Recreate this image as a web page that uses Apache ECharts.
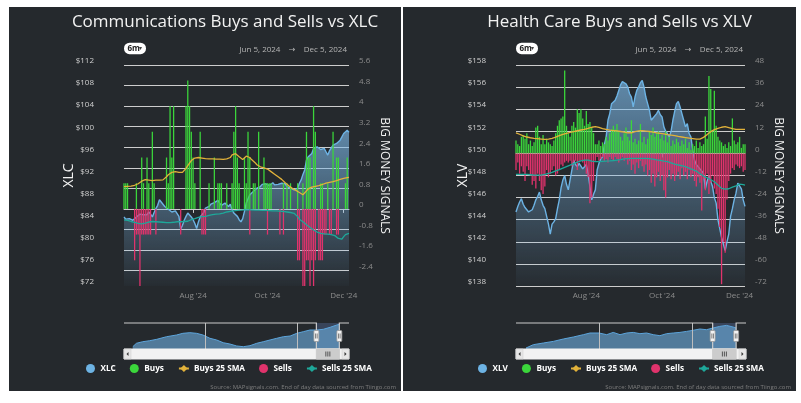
<!DOCTYPE html>
<html><head><meta charset="utf-8">
<script src="https://cdn.jsdelivr.net/npm/echarts@6/dist/echarts.min.js"></script>
<style>
html,body{margin:0;padding:0;background:#ffffff;width:801px;height:403px;overflow:hidden}
.panel{position:absolute;background:#25292d}
#c1{left:9px;top:7px;width:392px;height:384px}
#c2{left:403px;top:7px;width:393px;height:384px}
</style></head><body>
<div id="c1" class="panel"></div><div id="c2" class="panel"></div>
<script>
const FONT = "'Open Sans', 'DejaVu Sans', sans-serif";

// ---------- categories ----------
const holidays = ['2024-06-19','2024-07-04','2024-09-02','2024-11-28'];
function buildTradingDays(startIso, endIso){
  const out=[]; const d=new Date(startIso+'T00:00:00Z'); const end=new Date(endIso+'T00:00:00Z');
  while(d<=end){ const dow=d.getUTCDay(); const iso=d.toISOString().slice(0,10);
    if(dow!==0&&dow!==6&&holidays.indexOf(iso)<0) out.push(iso); d.setUTCDate(d.getUTCDate()+1);} return out;
}
const tradingDates = buildTradingDays('2024-06-05','2024-12-05');
const tickDates = ['2024-08-01','2024-10-01','2024-12-02'];
const tickLabels = ["Aug '24","Oct '24","Dec '24"];
const selStart = '2024-06-05', selEnd = '2024-12-05';
const navMin = '2020-03-25', navMax = '2025-02-20';
const navYearLines = ['2022-01-01','2024-01-01'];

// ---------- XLC (Communications) ----------
const xlcPrice = [84.5,84.1,83.9,84.2,84.3,83.9,84.1,84.5,84.8,85.0,85.3,84.9,84.6,84.9,85.4,85.0,84.5,85.3,86.0,86.6,
87.6,87.2,87.4,86.4,86.1,85.9,85.8,85.4,85.2,85.6,85.3,84.6,82.3,83.0,83.9,84.6,85.2,84.9,84.5,84.0,
83.3,82.4,83.6,84.5,84.9,85.3,86.1,86.0,86.4,86.8,87.0,87.1,87.3,87.5,87.0,86.6,86.4,87.0,87.3,86.4,
86.8,85.8,85.2,84.9,84.6,84.0,83.6,84.2,85.5,87.0,87.8,88.5,88.8,89.1,89.4,89.7,89.9,90.0,90.4,90.3,
90.5,90.6,90.2,90.4,90.7,90.3,90.0,90.4,90.7,90.6,90.9,90.5,90.0,89.8,89.7,89.5,89.4,89.6,89.7,90.6,
91.2,92.2,93.0,94.8,95.4,95.1,96.0,96.9,97.0,97.2,97.0,96.7,96.8,96.9,96.3,95.7,96.5,97.0,97.5,97.6,
97.8,98.0,98.4,99.0,99.6,99.9,100.2,99.8];
const xlcBuys = [1,1,1,0,0,0,0,1,0,0, 2,1,0,2,1,0,3,1,0,0, 0,0,0,0,2,1,4,2,4,0, 0,0,0,0,0,4,5,4,3,2,
1,0,0,3,0,0,0,0,1,0, 0,2,0,1,1,1,0,0,1,0, 0,1,3,4,2,1,0,0,2,1, 3,2,0,1,1,0,3,0,0,2,
1,1,1,1,0,0,0,0,0,0, 1,0,1,0,1,0,0,0,1,0, 0,1,0,3,2,2,0,4,3,0, 0,1,1,0,0,1,0,0,3,0,
2,2,0,0,0,1,2,0];
const xlcSells = [0,0,0,0,0,0,-2,-1,-1,-3, -1,-1,-1,-1,-1,-1,0,0,-1,0, 0,0,0,0,0,0,0,0,0,0, 0,0,-1,0,0,0,0,0,0,0,
0,0,0,0,-1,-1,-1,0,0,0, 0,0,0,0,0,0,0,0,0,0, 0,0,0,0,0,0,0,0,0,0, 0,-1,0,0,0,0,0,0,0,0,
0,-1,0,0,0,0,0,0,-1,0, -1,0,0,0,0,0,0,0,-2,-2, 0,-3,-3,-2,-2,-3,-2,-3,-2,0, -2,-2,-2,-1,-1,0,-1,-1,0,0,
-1,-1,0,0,0,0,0,0];
const xlcBuysSma = [0.87,0.86,0.88,0.88,0.89,0.9,0.92,0.95,0.98,1.02, 1.08,1.12,1.14,1.13,1.12,1.1,1.1,1.11,1.12,1.12,
1.12,1.13,1.13,1.15,1.25,1.33,1.39,1.42,1.44,1.45, 1.45,1.42,1.39,1.42,1.5,1.58,1.68,1.78,1.88,1.95,
1.98,2.0,2.0,1.99,1.98,1.97,1.96,1.96,1.95,1.95, 1.95,1.94,1.94,1.94,1.94,1.93,1.93,1.94,1.95,1.94,
2.0,2.1,2.16,2.15,2.08,2.03,1.98,1.92,1.95,2.05, 2.08,2.0,1.92,1.86,1.8,1.72,1.66,1.64,1.62,1.6,
1.58,1.55,1.5,1.45,1.4,1.35,1.3,1.25,1.2,1.15, 1.08,1.02,0.95,0.9,0.85,0.8,0.76,0.72,0.68,0.64,
0.6,0.55,0.6,0.7,0.78,0.82,0.85,0.87,0.88,0.9, 0.91,0.93,0.95,0.97,1.0,1.01,1.03,1.04,1.06,1.08,
1.1,1.12,1.15,1.17,1.19,1.21,1.22,1.23];
const xlcSellsSma = [-0.43,-0.44,-0.45,-0.47,-0.49,-0.5,-0.52,-0.56,-0.56,-0.58, -0.58,-0.57,-0.55,-0.53,-0.51,-0.5,-0.49,-0.49,-0.5,-0.5,
-0.51,-0.52,-0.52,-0.53,-0.53,-0.53,-0.53,-0.52,-0.52,-0.51, -0.5,-0.5,-0.5,-0.49,-0.49,-0.49,-0.48,-0.45,-0.42,-0.4,
-0.38,-0.35,-0.33,-0.31,-0.3,-0.3,-0.29,-0.27,-0.25,-0.23, -0.22,-0.21,-0.2,-0.19,-0.19,-0.18,-0.16,-0.14,-0.12,-0.11,
-0.1,-0.09,-0.08,-0.07,-0.06,-0.05,-0.05,-0.04,-0.04,-0.04, -0.04,-0.04,-0.04,-0.05,-0.05,-0.05,-0.05,-0.06,-0.06,-0.06,
-0.06,-0.06,-0.07,-0.07,-0.08,-0.08,-0.08,-0.09,-0.09,-0.1, -0.1,-0.11,-0.12,-0.13,-0.14,-0.16,-0.17,-0.22,-0.3,-0.4,
-0.45,-0.5,-0.56,-0.62,-0.67,-0.72,-0.76,-0.82,-0.86,-0.9, -0.93,-0.95,-0.96,-0.97,-0.97,-0.98,-0.99,-1.0,-1.0,-1.04,
-1.1,-1.15,-1.2,-1.18,-1.08,-1.0,-0.97,-0.95];
const xlcNavDates = ['2020-06-03','2020-07-02','2020-08-21','2020-10-16','2020-12-11','2021-02-27','2021-05-18','2021-07-07','2021-09-01','2021-10-24',
'2021-12-14','2022-02-08','2022-04-02','2022-05-25','2022-07-17','2022-09-09','2022-11-01','2022-12-24','2023-02-16','2023-04-09',
'2023-06-02','2023-07-25','2023-09-16','2023-11-09','2024-01-01','2024-02-22','2024-04-15','2024-06-08','2024-07-31','2024-09-23','2024-11-15','2024-12-05'];
const xlcNavValues = [47.5,55.6,59.4,61.8,65.1,71.3,75.4,79.4,80.9,79.4, 75.4,67.5,63.5,57.0,53.9,49.2,47.5,49.9,55.6,59.4,
63.5,67.5,71.3,73.0,79.4,83.3,87.3,87.3,89.0,93.8,99.2,100.9];
const xlcSignalTicks = [-2.4,-1.6,-0.8,0,0.8,1.6,2.4,3.2,4,4.8,5.6];

// ---------- XLV (Health Care) ----------
const xlvPrice = [144.7,145.2,145.6,145.9,145.4,145.1,144.9,144.7,144.6,144.9, 145.3,145.8,146.1,146.5,145.8,145.3,145.0,144.3,143.6,142.7,
143.6,143.8,144.1,145.0,145.8,146.9,147.6,148.0,147.2,146.7, 147.6,148.5,149.4,149.0,148.8,149.1,149.0,148.6,148.5,149.0,
148.2,147.0,145.8,146.3,146.7,148.5,149.1,149.5,149.7,150.8, 151.5,153.0,153.6,154.5,154.6,154.8,155.2,155.7,156.2,156.5,
156.6,156.3,156.0,155.4,155.1,154.2,155.1,155.7,156.0,156.4, 156.6,156.0,155.1,154.5,153.9,153.0,153.2,153.3,153.6,153.9,
153.5,153.3,152.4,152.0,151.8,151.5,152.0,153.0,153.8,154.5, 154.7,154.2,153.6,153.0,152.4,152.7,151.8,151.5,150.3,149.4,
149.0,148.8,148.6,148.5,148.2,146.8,147.5,148.0,147.5,147.0, 146.0,145.5,144.0,143.2,142.4,141.8,141.2,142.0,142.7,144.3,
145.0,145.8,146.4,147.3,147.2,146.8,145.8,145.2];
const xlvBuys = [7,5,4,9,10,8,11,5,7,4, 6,14,15,9,5,10,5,8,6,5, 4,7,11,15,18,19,20,45,15,11, 9,15,17,14,24,22,24,19,15,23,
16,17,14,11,5,5,7,4,6,5, 9,7,11,13,15,13,16,12,9,7, 11,14,9,7,18,6,8,5,7,16, 6,9,5,8,12,10,14,9,11,12,
8,10,7,12,6,9,4,7,5,8, 6,4,7,5,8,3,6,2,5,4, 7,3,6,4,5,20,8,42,35,12, 34,15,9,7,6,4,5,3,6,4,
19,7,5,6,9,3,5,5];
const xlvSells = [-9,-5,-11,-7,-10,-15,-7,-9,-12,-17, -15,-19,-11,-15,-20,-22,-18,-9,-13,-11, -9,-7,-12,-11,-9,-6,-7,-5,-4,-5,
-4,-7,-5,-4,-9,-5,-4,-5,-7,-11, -13,-27,-24,-15,-4,-2,-4,-3,-2,-4, -3,-5,-2,-3,-4,-2,-3,-5,-3,-2,
-4,-3,-6,-4,-9,-6,-11,-5,-8,-4, -7,-10,-6,-12,-9,-16,-11,-18,-13,-10, -15,-12,-20,-24,-13,-9,-14,-11,-15,-12,
-10,-14,-8,-12,-10,-14,-9,-13,-11,-15, -18,-13,-16,-31,-14,-20,-11,-22,-16,-12, -19,-22,-30,-40,-71,-48,-54,-25,-15,-11,
-8,-9,-6,-7,-8,-7,-10,-9];
const xlvBuysSma = [11.2,10.8,10.4,10,9.5,9,8.9,8.7,8.5,8.4, 8.2,8.1,8.0,7.9,7.8,7.7,7.6,7.7,7.8,8.0,
8.2,8.5,8.8,9.2,9.6,10,10.3,10.6,10.9,11.2, 11.4,11.6,11.8,12.0,12.3,12.5,12.7,12.9,13.1,13.3,
13.6,13.9,14.2,14.4,14.5,14.4,14.1,13.8,13.5,13.2, 13.0,12.8,12.6,12.5,12.4,12.3,12.2,12.0,11.9,11.8,
11.6,11.4,11.2,11.0,11.2,11.5,11.8,12.0,12.2,12.3, 12.3,12.2,12.1,12.0,11.9,11.8,11.6,11.4,11.2,11.0,
10.9,10.8,10.6,10.4,10.2,10.0,9.9,9.8,9.6,9.4, 9.2,9.1,8.9,8.8,8.6,8.4,8.3,8.2,8.0,7.8,
7.7,7.6,7.8,8.2,8.7,9.5,10.2,11.0,11.8,12.4, 12.9,13.3,13.6,13.9,14.2,14.4,14.5,14.3,14.0,13.7,
13.5,13.3,13.1,13.0,13.0,13.0,13.0,13.0];
const xlvSellsSma = [-11.4,-11.4,-11.4,-11.4,-11.4,-11.4,-11.4,-11.5,-11.6,-11.7, -11.8,-11.8,-11.8,-11.8,-11.8,-11.6,-11.4,-11.2,-10.9,-10.6,
-10.3,-9.9,-9.5,-9.2,-8.8,-8.4,-8.0,-7.6,-7.2,-6.9, -6.4,-6.0,-5.5,-5.1,-4.7,-4.4,-4.1,-3.9,-3.7,-3.6,
-3.6,-3.9,-4.2,-4.4,-4.5,-4.5,-4.5,-4.4,-4.3,-4.3, -4.2,-4.2,-4.1,-4.0,-3.9,-3.8,-3.7,-3.6,-3.4,-3.2,
-3.0,-2.9,-2.8,-2.7,-2.7,-2.7,-2.7,-2.7,-2.7,-2.7, -2.7,-2.7,-2.7,-2.7,-2.8,-3.0,-3.1,-3.3,-3.5,-3.6,
-3.8,-4.0,-4.2,-4.4,-4.5,-4.8,-5.1,-5.5,-5.8,-6.1, -6.3,-6.5,-6.7,-6.9,-7.2,-7.6,-8.0,-8.4,-8.8,-9.0,
-9.6,-10.3,-11.0,-11.7,-12.3,-12.8,-13.3,-13.8,-14.3,-14.9, -15.4,-16.3,-17.2,-18.1,-19.0,-19.3,-19.4,-19.4,-19.2,-18.7,
-18.3,-18.1,-17.6,-17.1,-16.7,-16.8,-17.0,-17.2];
const xlvNavDates = ['2020-06-11','2020-08-07','2020-10-24','2021-01-10','2021-03-29','2021-06-15','2021-09-01','2021-10-23','2022-01-01','2022-03-02',
'2022-04-22','2022-06-14','2022-08-05','2022-09-25','2022-11-16','2023-01-07','2023-02-28','2023-04-21','2023-06-12','2023-08-03',
'2023-09-24','2023-11-15','2024-01-01','2024-02-26','2024-04-18','2024-06-08','2024-07-30','2024-09-21','2024-11-11','2024-12-05'];
const xlvNavValues = [102.5,110.8,115,119,125,130,135.8,140,140,135.8, 141.5,135.8,140,141.5,138.3,140,135.8,133.3,138.3,140,
141.5,144,146.5,150,148.3,152.5,156.5,159,155,152.5];
const xlvSignalTicks = [-72,-60,-48,-36,-24,-12,0,12,24,36,48];

// ---------- colours ----------
const C = {price:'#6db3e4', buys:'#3bd63b', buysSma:'#e2b23a', sells:'#e0336c', sellsSma:'#1ea89a',
  grid:'#cdcdcd', label:'#d0d0d0', label2:'#8c8c8c', text:'#f2f2f2'};

function makePanel(dom, cfg){
  const chart = echarts.init(dom, null, {renderer:'canvas'});
  const W = dom.clientWidth, H = dom.clientHeight;
  const isTick = (i, v) => tickDates.indexOf(v) >= 0;
  const sigFmt = v => String(+(+v).toFixed(1));
  chart.setOption({
    animation:false,
    textStyle:{fontFamily:FONT},
    grid:[
      {left:cfg.gL, top:58, width:cfg.gW, height:221},
      {left:cfg.gL, top:316, width:cfg.nW, height:26}
    ],
    xAxis:[
      {type:'category', gridIndex:0, data:tradingDates, boundaryGap:false,
       axisLine:{lineStyle:{color:'#cccccc', width:1}},
       axisTick:{interval:isTick, length:4, lineStyle:{color:'#cccccc'}},
       axisLabel:{interval:isTick, formatter:v=>tickLabels[tickDates.indexOf(v)], color:'#8c8c8c', fontSize:8, margin:6},
       splitLine:{show:false}},
      {type:'time', gridIndex:1, min:navMin, max:navMax, show:false}
    ],
    yAxis:[
      {type:'value', gridIndex:0, position:'left', min:cfg.pMin, max:cfg.pMax, interval:cfg.pStep,
       axisLine:{show:false}, axisTick:{show:false}, splitLine:{show:false},
       axisLabel:{formatter:'${value}', color:C.label, fontSize:8, margin:cfg.pMargin, verticalAlign:'bottom', lineHeight:8},
       name:cfg.ticker, nameLocation:'middle', nameRotate:90, nameGap:cfg.nameGapL, nameMoveOverlap:false,
       nameTextStyle:{color:C.text, fontSize:14}},
      {type:'value', gridIndex:0, position:'right', min:cfg.sMin, max:cfg.sMax,
       axisLine:{show:false},
       axisTick:{show:false, customValues:cfg.sTicks},
       axisLabel:{customValues:cfg.sTicks, formatter:sigFmt, color:C.label2, fontSize:8, margin:10, verticalAlign:'bottom', lineHeight:8},
       splitLine:{show:true, lineStyle:{color:C.grid, width:1}},
       name:'BIG MONEY SIGNALS', nameLocation:'middle', nameRotate:-90, nameGap:cfg.nameGapR, nameMoveOverlap:false,
       nameTextStyle:{color:C.text, fontSize:12}},
      {type:'value', gridIndex:1, min:cfg.navYMin, max:cfg.navYMax, show:false}
    ],
    legend:{left:cfg.legendLeft, top:352, width:380, itemWidth:10, itemHeight:9, itemGap:14,
      textStyle:{color:'#ffffff', fontSize:8.2, fontWeight:'bold'},
      data:[{name:cfg.ticker, icon:'circle'},{name:'Buys', icon:'circle'},'Buys 25 SMA',{name:'Sells', icon:'circle'},'Sells 25 SMA']},
    series:[
      {name:cfg.ticker, type:'line', xAxisIndex:0, yAxisIndex:0, data:cfg.price, symbol:'circle', showSymbol:false,
       color:C.price, lineStyle:{color:C.price, width:1.4}, z:1,
       areaStyle:{color:new echarts.graphic.LinearGradient(0,0,0,1,[{offset:0,color:'rgba(125,185,232,0.95)'},{offset:1,color:'rgba(125,185,232,0.04)'}])}},
      {name:'Buys', type:'bar', xAxisIndex:0, yAxisIndex:1, data:cfg.buys, color:C.buys, barWidth:'72%', barGap:'-100%', z:2},
      {name:'Buys 25 SMA', type:'line', xAxisIndex:0, yAxisIndex:1, data:cfg.buysSma, symbol:'diamond', symbolSize:6, showSymbol:false,
       color:C.buysSma, lineStyle:{color:C.buysSma, width:1.3}, z:4},
      {name:'Sells', type:'bar', xAxisIndex:0, yAxisIndex:1, data:cfg.sells, color:C.sells, barWidth:'72%', barGap:'-100%', z:3},
      {name:'Sells 25 SMA', type:'line', xAxisIndex:0, yAxisIndex:1, data:cfg.sellsSma, symbol:'diamond', symbolSize:6, showSymbol:false,
       color:C.sellsSma, lineStyle:{color:C.sellsSma, width:1.3}, z:4},
      {name:'nav', type:'line', xAxisIndex:1, yAxisIndex:2, symbol:'none',
       data:cfg.navDates.map((d,i)=>[d, cfg.navValues[i]]),
       lineStyle:{color:'#5da5dc', width:1}, areaStyle:{color:'rgba(110,178,228,0.85)'},
       markLine:{silent:true, symbol:'none', label:{show:false}, lineStyle:{color:'#bdbdbd', width:1, type:'solid'},
         data:navYearLines.map(d=>({xAxis:d}))},
       markArea:{silent:true, itemStyle:{color:'rgba(102,133,194,0.3)'}, data:[[{xAxis:selStart},{xAxis:selEnd}]]}}
    ]
  });

  const xs = chart.convertToPixel({xAxisIndex:1}, +new Date(selStart+'T00:00:00Z'));
  const xe = chart.convertToPixel({xAxisIndex:1}, +new Date(selEnd+'T00:00:00Z'));
  const nT = 316, nB = 342, nL = cfg.gL, nR = cfg.gL + cfg.nW;
  const sT = 342, sH = 10;
  const g = [];
  g.push({type:'text', x:W/2+20, y:15, style:{text:cfg.title, fill:C.text, font:'17px '+FONT, textAlign:'center', textVerticalAlign:'middle'}});
  g.push({type:'rect', shape:{x:cfg.gL, y:35.7, width:22, height:11.5, r:5.5}, style:{fill:'#ffffff'}});
  g.push({type:'text', x:cfg.gL+3.5, y:41.5, style:{text:'6m', fill:'#222', font:'bold 8px '+FONT, textVerticalAlign:'middle'}});
  g.push({type:'text', x:cfg.gL+15, y:41.5, style:{text:'▾', fill:'#444', font:'6px '+FONT, textVerticalAlign:'middle'}});
  g.push({type:'text', x:cfg.gL+cfg.gW-2, y:42.3, style:{text:'Jun 5, 2024    \u2192    Dec 5, 2024', fill:'#b5b5b5', font:'8px '+FONT, textAlign:'right', textVerticalAlign:'middle'}});
  g.push({type:'text', x:W-5, y:380, style:{text:'Source: MAPsignals.com. End of day data sourced from Tiingo.com', fill:'#7d7d7d', font:'6px '+FONT, textAlign:'right', textVerticalAlign:'middle'}});
  const ol = {stroke:'#cccccc', lineWidth:1.2};
  g.push({type:'polyline', shape:{points:[[nL,nT],[xs,nT],[xs,nB],[xe,nB],[xe,nT],[nR,nT]]}, style:Object.assign({fill:null}, ol)});
  g.push({type:'rect', shape:{x:nL, y:sT, width:cfg.nW, height:sH}, style:{fill:'#f2f2f2', stroke:'#f2f2f2'}});
  g.push({type:'rect', shape:{x:xs, y:sT, width:xe-xs, height:sH}, style:{fill:'#cccccc', stroke:'#cccccc'}});
  const mid = (xs+xe)/2;
  [-2,0,2].forEach(o=>g.push({type:'line', shape:{x1:mid+o, y1:sT+2.5, x2:mid+o, y2:sT+sH-2.5}, style:{stroke:'#333', lineWidth:0.8}}));
  g.push({type:'rect', shape:{x:nL, y:sT, width:7, height:sH}, style:{fill:'#e6e6e6', stroke:'#cccccc', lineWidth:0.5}});
  g.push({type:'rect', shape:{x:nR-7, y:sT, width:7, height:sH}, style:{fill:'#e6e6e6', stroke:'#cccccc', lineWidth:0.5}});
  g.push({type:'polygon', shape:{points:[[nL+4.5,sT+3],[nL+4.5,sT+7],[nL+2.5,sT+5]]}, style:{fill:'#333'}});
  g.push({type:'polygon', shape:{points:[[nR-4.5,sT+3],[nR-4.5,sT+7],[nR-2.5,sT+5]]}, style:{fill:'#333'}});
  [xs, xe].forEach(x=>{
    g.push({type:'rect', shape:{x:x-2.5, y:(nT+nB)/2-5.5, width:5, height:11, r:1}, style:{fill:'#f2f2f2', stroke:'#999999', lineWidth:0.8}});
    g.push({type:'line', shape:{x1:x-0.8, y1:(nT+nB)/2-2.5, x2:x-0.8, y2:(nT+nB)/2+2.5}, style:{stroke:'#333', lineWidth:0.6}});
    g.push({type:'line', shape:{x1:x+0.8, y1:(nT+nB)/2-2.5, x2:x+0.8, y2:(nT+nB)/2+2.5}, style:{stroke:'#333', lineWidth:0.6}});
  });
  chart.setOption({graphic:g.map(e=>Object.assign({silent:true, z:100}, e))});
  return chart;
}

makePanel(document.getElementById('c1'), {
  title:'Communications Buys and Sells vs XLC', ticker:'XLC',
  gL:115, gW:225, nW:225, pMin:72, pMax:112, pStep:4, pMargin:30, nameGapL:48, nameGapR:29,
  sMin:-3.0, sMax:5.6, sTicks:xlcSignalTicks,
  price:xlcPrice, buys:xlcBuys, sells:xlcSells, buysSma:xlcBuysSma, sellsSma:xlcSellsSma,
  navDates:xlcNavDates, navValues:xlcNavValues, navYMin:42, navYMax:104, legendLeft:72
});
makePanel(document.getElementById('c2'), {
  title:'Health Care Buys and Sells vs XLV', ticker:'XLV',
  gL:113, gW:229, nW:230, pMin:138, pMax:158, pStep:2, pMargin:30, nameGapL:46, nameGapR:27,
  sMin:-72, sMax:48, sTicks:xlvSignalTicks,
  price:xlvPrice, buys:xlvBuys, sells:xlvSells, buysSma:xlvBuysSma, sellsSma:xlvSellsSma,
  navDates:xlvNavDates, navValues:xlvNavValues, navYMin:100, navYMax:165, legendLeft:70
});
</script></body></html>
